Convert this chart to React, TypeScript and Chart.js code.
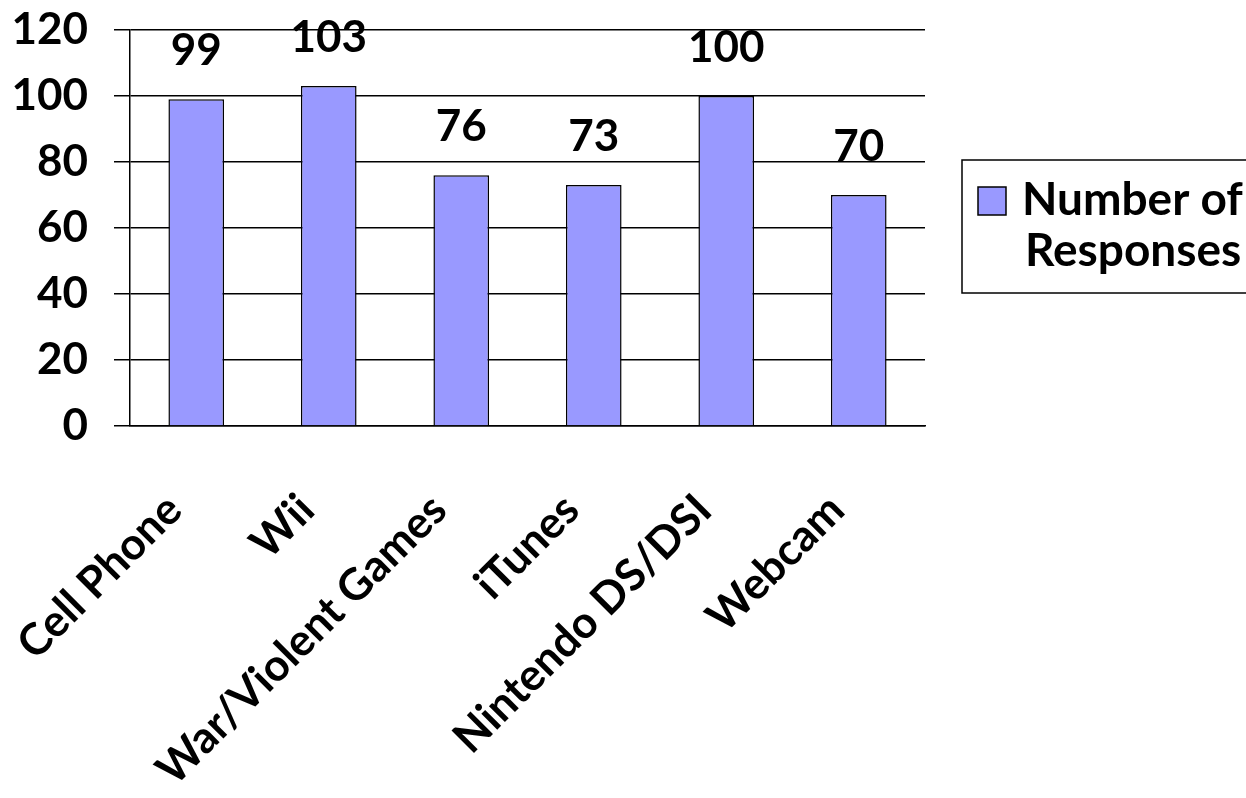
import React, { useEffect, useRef } from "react";
import { Chart, registerables } from "chart.js";

Chart.register(...registerables);

const categories = ["Cell Phone", "Wii", "War/Violent Games", "iTunes", "Nintendo DS/DSI", "Webcam"];
const responses = [99, 103, 76, 73, 100, 70];
const seriesLabel = ["Number of", "Responses"];
const yTicks = [0, 20, 40, 60, 80, 100, 120];

const FONT = "Lato";
const BAR_COLOR = "#9999FF";

const valueLabels = {
  id: "valueLabels",
  afterDatasetsDraw(chart: any) {
    const ctx = chart.ctx;
    const meta = chart.getDatasetMeta(0);
    ctx.save();
    ctx.font = `bold 44px ${FONT}`;
    ctx.fillStyle = "#000";
    ctx.textAlign = "center";
    ctx.textBaseline = "middle";
    meta.data.forEach((el: any, i: number) => {
      ctx.fillText(String(responses[i]), el.x, el.y - 48);
    });
    ctx.restore();
  },
};

const sideLegend = {
  id: "sideLegend",
  afterDraw(chart: any) {
    const ctx = chart.ctx;
    const left = 962;
    const top = 160;
    ctx.save();
    ctx.strokeStyle = "#000";
    ctx.lineWidth = 1.5;
    ctx.strokeRect(left, top, 400, 133);
    ctx.fillStyle = BAR_COLOR;
    ctx.fillRect(left + 16, top + 27, 28, 28);
    ctx.strokeRect(left + 16, top + 27, 28, 28);
    ctx.fillStyle = "#000";
    ctx.font = `bold 46px ${FONT}`;
    ctx.textAlign = "left";
    ctx.textBaseline = "alphabetic";
    ctx.fillText(seriesLabel[0], left + 60, top + 55);
    ctx.fillText(seriesLabel[1], left + 63, top + 106);
    ctx.restore();
  },
};

export default function App() {
  const ref = useRef<HTMLCanvasElement | null>(null);
  useEffect(() => {
    let chart: Chart | null = null;
    let cancelled = false;
    const make = () => {
      if (cancelled || !ref.current) return;
      chart = new Chart(ref.current, {
        type: "bar",
        data: {
          labels: categories,
          datasets: [
            {
              label: seriesLabel.join(" "),
              data: responses,
              backgroundColor: BAR_COLOR,
              borderColor: "#000",
              borderWidth: 1.5,
              barPercentage: 0.42,
              categoryPercentage: 1,
            },
          ],
        },
        options: {
          responsive: false,
          animation: false,
          layout: { padding: { top: 30, right: 321, left: 0, bottom: 0 } },
          plugins: { legend: { display: false }, tooltip: { enabled: false } },
          scales: {
            x: {
              grid: { display: false, drawTicks: false },
              border: { display: true, color: "#000", width: 1.5 },
              ticks: {
                color: "#000",
                font: { family: FONT, size: 44, weight: "bold" },
                minRotation: 45,
                maxRotation: 45,
                autoSkip: false,
                padding: 58,
                labelOffset: -22,
              },
              afterFit(scale: any) {
                scale.height = 372;
                scale.paddingLeft = 0;
                scale.paddingRight = 0;
              },
            },
            y: {
              min: 0,
              max: 120,
              afterBuildTicks(scale: any) {
                scale.ticks = yTicks.map((v) => ({ value: v }));
              },
              grid: { color: "#000", lineWidth: 1.5, tickLength: 16, drawTicks: true },
              border: { display: true, color: "#000", width: 1.5 },
              ticks: {
                color: "#000",
                font: { family: FONT, size: 44, weight: "bold" },
                padding: 26,
              },
              afterFit(scale: any) {
                scale.width = 130;
                scale.paddingTop = 0;
                scale.paddingBottom = 0;
              },
            },
          },
        },
        plugins: [valueLabels, sideLegend],
      });
    };
    const fonts: any = (document as any).fonts;
    if (fonts && fonts.load) {
      fonts.load(`bold 44px ${FONT}`).then(make, make);
    } else {
      make();
    }
    return () => {
      cancelled = true;
      if (chart) chart.destroy();
    };
  }, []);
  return (
    <div style={{ position: "fixed", left: 0, top: 0, width: 1246, height: 798, background: "#fff" }}>
      <canvas ref={ref} width={1246} height={798} style={{ display: "block" }} />
    </div>
  );
}
